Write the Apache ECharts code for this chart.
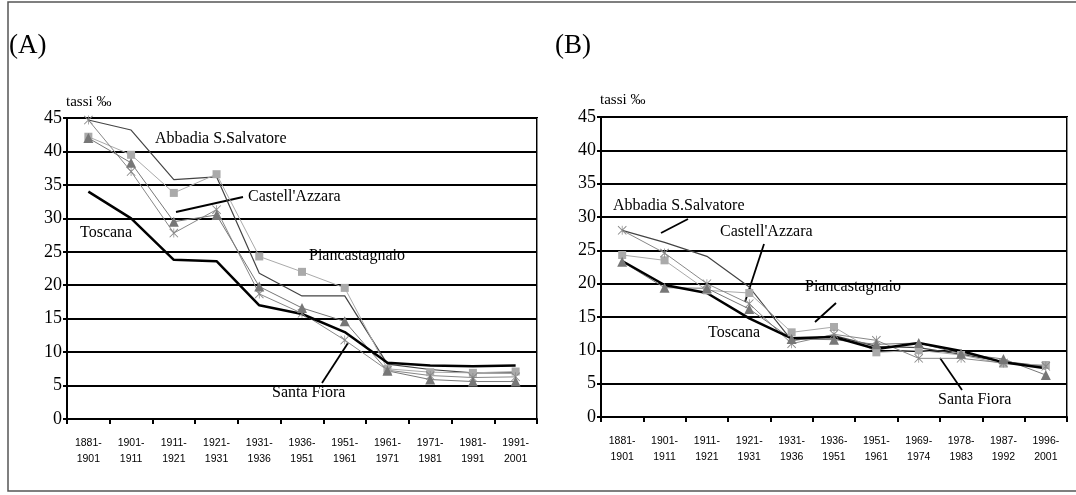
<!DOCTYPE html>
<html><head><meta charset="utf-8">
<script src="https://cdn.jsdelivr.net/npm/echarts@6/dist/echarts.min.js"></script>
<style>html,body{margin:0;padding:0;background:#fff}#c{width:1076px;height:495px}</style>
</head><body><div id="c"></div>
<script>
const catsA = ['1881-\n1901','1901-\n1911','1911-\n1921','1921-\n1931','1931-\n1936','1936-\n1951','1951-\n1961','1961-\n1971','1971-\n1981','1981-\n1991','1991-\n2001'];
const catsB = ['1881-\n1901','1901-\n1911','1911-\n1921','1921-\n1931','1931-\n1936','1936-\n1951','1951-\n1961','1969-\n1974','1978-\n1983','1987-\n1992','1996-\n2001'];
const yTicks = [0,5,10,15,20,25,30,35,40,45];

const toscanaA = [34, 30, 23.8, 23.6, 17, 15.7, 13, 8.4, 8.0, 7.9, 8.0];
const abbadiaA = [44.7, 43.2, 35.8, 36.2, 21.8, 18.4, 18.4, 8.2, 7.4, 6.9, 6.9];
const pianA    = [42.2, 39.5, 33.8, 36.6, 24.3, 22.0, 19.6, 7.5, 7.0, 6.9, 7.1];
const castA    = [42.0, 38.3, 29.5, 30.5, 19.8, 16.6, 14.6, 7.2, 5.9, 5.6, 5.6];
const santaA   = [44.7, 37.0, 27.8, 31.3, 18.7, 15.8, 11.8, 7.3, 6.5, 6.2, 6.3];

const toscanaB = [23.4, 19.8, 18.6, 14.8, 11.8, 12.0, 10.2, 11.1, 9.9, 8.2, 7.3];
const abbadiaB = [28.0, 26.2, 24.1, 19.5, 11.5, 12.2, 10.6, 10.4, 9.4, 8.3, 7.6];
const pianB    = [24.3, 23.5, 19.0, 18.6, 12.7, 13.5, 9.7, 10.0, 9.3, 8.0, 7.8];
const castB    = [23.3, 19.4, 19.3, 16.2, 11.7, 11.6, 10.9, 11.1, 9.5, 8.7, 6.3];
const santaB   = [28.0, 24.6, 20.0, 17.0, 11.0, 12.4, 11.5, 8.8, 8.8, 8.1, 7.6];

const serif = 'Liberation Serif';
const sans = 'Liberation Sans';
const star = 'path://M0,0.7L0.7,0L10,9.3L9.3,10Z M9.3,0L10,0.7L0.7,10L0,9.3Z M4.6,0L5.4,0L5.4,10L4.6,10Z';

function xAxis(cats, gi){
  return {type:'category', gridIndex:gi, data:cats, boundaryGap:true,
    axisLine:{lineStyle:{color:'#000', width:2}},
    axisTick:{show:true, length:5, lineStyle:{color:'#000', width:2}, alignWithLabel:false},
    axisLabel:{fontFamily:sans, fontSize:10.5, color:'#000', margin:16, lineHeight:16, interval:0},
    splitLine:{show:true, interval:(i)=>i===7, lineStyle:{color:'#888', width:1}}
  };
}
function yAxis(gi){
  return {type:'value', gridIndex:gi, min:yTicks[0], max:yTicks[yTicks.length-1], interval:5,
    axisLine:{show:true, lineStyle:{color:'#000', width:2}},
    axisTick:{show:true, length:4, lineStyle:{color:'#000', width:2}},
    axisLabel:{fontFamily:serif, fontSize:18, color:'#000', margin:5},
    splitLine:{show:true, lineStyle:{color:'#000', width:2}}
  };
}
function seriesSet(gi, tosc, abb, pian, cast, santa){
  return [
    {name:'Abbadia S.Salvatore', type:'line', xAxisIndex:gi, yAxisIndex:gi, data:abb, showSymbol:false, symbol:'none',
      lineStyle:{color:'#444', width:1.2}, silent:true},
    {name:'Piancastagnaio', type:'line', xAxisIndex:gi, yAxisIndex:gi, data:pian, symbol:'rect', symbolSize:8,
      itemStyle:{color:'#aaa'}, lineStyle:{color:'#aaa', width:1}},
    {name:'Santa Fiora', type:'line', xAxisIndex:gi, yAxisIndex:gi, data:santa, symbol:star, symbolSize:9,
      itemStyle:{color:'#888'}, lineStyle:{color:'#888', width:1}},
    {name:"Castell'Azzara", type:'line', xAxisIndex:gi, yAxisIndex:gi, data:cast, symbol:'triangle', symbolSize:10,
      itemStyle:{color:'#777'}, lineStyle:{color:'#777', width:1}},
    {name:'Toscana', type:'line', xAxisIndex:gi, yAxisIndex:gi, data:tosc, symbol:'none',
      lineStyle:{color:'#000', width:2.5}}
  ];
}
function txt(x, cy, s, size){
  size = size || 16;
  return {type:'text', left:x, top:cy - size*0.6, style:{text:s, fontFamily:serif, fontSize:size, fill:'#000'}};
}
function ln(x1,y1,x2,y2){
  return {type:'line', shape:{x1:x1,y1:y1,x2:x2,y2:y2}, style:{stroke:'#000', lineWidth:1.8}};
}
const chart = echarts.init(document.getElementById('c'), null, {renderer:'canvas'});
chart.setOption({
  animation:false,
  backgroundColor:'#fff',
  grid:[
    {left:67, top:118, width:470, height:301, show:true, borderColor:'#000', borderWidth:2, backgroundColor:'transparent'},
    {left:601, top:117, width:466, height:300, show:true, borderColor:'#000', borderWidth:2, backgroundColor:'transparent'}
  ],
  xAxis:[xAxis(catsA,0), xAxis(catsB,1)],
  yAxis:[yAxis(0), yAxis(1)],
  series:[].concat(seriesSet(0, toscanaA, abbadiaA, pianA, castA, santaA),
                   seriesSet(1, toscanaB, abbadiaB, pianB, castB, santaB)),
  graphic:[
    {type:'rect', shape:{x:8, y:2, width:1100, height:489}, style:{fill:'none', stroke:'#555', lineWidth:1.5}, silent:true},
    txt(9, 49, '(A)', 27),
    txt(555, 49, '(B)', 27),
    txt(66, 104, 'tassi ‰', 15),
    txt(600, 102, 'tassi ‰', 15),
    txt(155, 140, 'Abbadia S.Salvatore'),
    txt(248, 198, "Castell'Azzara"),
    ln(176,212,243,197),
    txt(80, 234, 'Toscana'),
    txt(309, 257, 'Piancastagnaio'),
    txt(272, 394, 'Santa Fiora'),
    ln(322,383,348,343),
    txt(613, 207, 'Abbadia S.Salvatore'),
    ln(661,233,688,219),
    txt(720, 233, "Castell'Azzara"),
    ln(764,244,745,302),
    txt(805, 288, 'Piancastagnaio'),
    ln(836,303,815,322),
    txt(708, 334, 'Toscana'),
    txt(938, 401, 'Santa Fiora'),
    ln(940,358,962,390)
  ]
});
</script></body></html>
